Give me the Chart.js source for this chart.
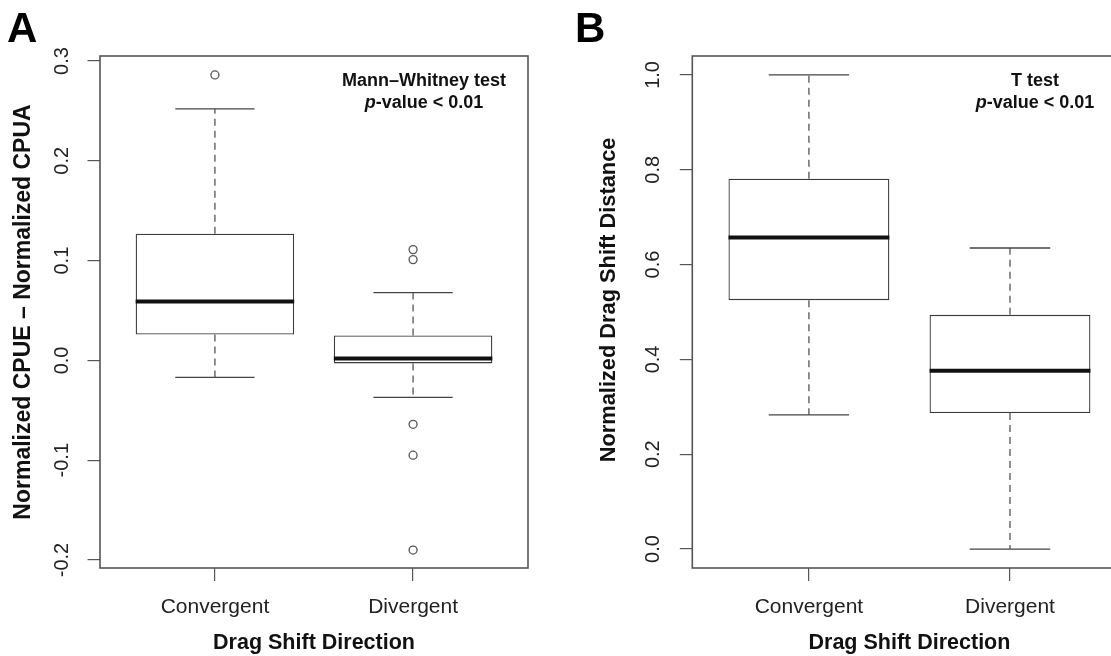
<!DOCTYPE html>
<html><head><meta charset="utf-8">
<script src="https://cdn.jsdelivr.net/npm/chart.js@4.4.1/dist/chart.umd.min.js"></script>
<style>
html,body{margin:0;padding:0;background:#fff;overflow:hidden;width:1111px;height:656px;}
#wrap{position:relative;width:1111px;height:656px;overflow:hidden;background:#fff;}
canvas{position:absolute;top:0;}
#cA{left:0;} #cB{left:560px;}
.lbl{position:absolute;font-family:"Liberation Sans",Arial,sans-serif;font-weight:bold;color:#000;white-space:nowrap;}
.panel{font-size:42px;line-height:42px;}
.note{font-size:18px;line-height:22px;text-align:center;width:240px;color:#111;}
</style></head><body>
<div id="wrap">
<canvas id="cA" width="555" height="656"></canvas>
<canvas id="cB" width="600" height="656"></canvas>
<div class="lbl panel" style="left:7px;top:7px">A</div>
<div class="lbl panel" style="left:575px;top:7px">B</div>
<div class="lbl note" style="left:304px;top:69px">Mann–Whitney test<br><i>p</i>-value &lt; 0.01</div>
<div class="lbl note" style="left:915px;top:69px">T test<br><i>p</i>-value &lt; 0.01</div>
</div>
<script>
// ---------- data ----------
const categories = ['Convergent', 'Divergent'];
const categoryPositions = [1, 2];

// Panel A: Normalized CPUE – Normalized CPUA
const aLowerWhisker = [-0.017, -0.037];
const aQ1           = [0.026, -0.003];
const aMedian       = [0.059, 0.002];
const aQ3           = [0.127, 0.025];
const aUpperWhisker = [0.252, 0.068];
const aOutlierCats   = [1, 2, 2, 2, 2, 2];
const aOutlierValues = [0.286, 0.111, 0.101, -0.064, -0.095, -0.190];
const aTicks = [-0.2, -0.1, 0.0, 0.1, 0.2, 0.3];

// Panel B: Normalized Drag Shift Distance
const bLowerWhisker = [0.283, 0.000];
const bQ1           = [0.525, 0.287];
const bMedian       = [0.657, 0.376];
const bQ3           = [0.781, 0.494];
const bUpperWhisker = [1.000, 0.635];
const bOutlierCats   = [];
const bOutlierValues = [];
const bTicks = [0.0, 0.2, 0.4, 0.6, 0.8, 1.0];

// ---------- drawing ----------
const FONT = '"Liberation Sans", Arial, sans-serif';
const BOXHALF = 0.4, CAPHALF = 0.2;

const boxExtras = {
  id: 'boxExtras',
  afterDatasetsDraw(chart, args, opts) {
    const {ctx, scales: {x, y}} = chart;
    const s = opts.stats;
    ctx.save();
    categoryPositions.forEach((pos, i) => {
      const cx = x.getPixelForValue(pos);
      const bh = x.getPixelForValue(pos + BOXHALF) - cx;
      const ch = x.getPixelForValue(pos + CAPHALF) - cx;
      // whiskers (dashed)
      ctx.strokeStyle = '#555'; ctx.lineWidth = 1.3; ctx.setLineDash([7, 5]);
      ctx.beginPath();
      ctx.moveTo(cx, y.getPixelForValue(s.q3[i])); ctx.lineTo(cx, y.getPixelForValue(s.uw[i]));
      ctx.moveTo(cx, y.getPixelForValue(s.q1[i])); ctx.lineTo(cx, y.getPixelForValue(s.lw[i]));
      ctx.stroke();
      // caps
      ctx.setLineDash([]); ctx.strokeStyle = '#444';
      ctx.beginPath();
      const yu = y.getPixelForValue(s.uw[i]), yl = y.getPixelForValue(s.lw[i]);
      ctx.moveTo(cx - ch, yu); ctx.lineTo(cx + ch, yu);
      ctx.moveTo(cx - ch, yl); ctx.lineTo(cx + ch, yl);
      ctx.stroke();
      // median
      ctx.strokeStyle = '#111'; ctx.lineWidth = 4;
      const ym = y.getPixelForValue(s.med[i]);
      ctx.beginPath(); ctx.moveTo(cx - bh, ym); ctx.lineTo(cx + bh, ym); ctx.stroke();
    });
    ctx.restore();
  },
  afterDraw(chart) {
    const {ctx, chartArea: a} = chart;
    ctx.save();
    ctx.strokeStyle = '#555'; ctx.lineWidth = 1.6;
    ctx.strokeRect(a.left, a.top, a.right - a.left, a.bottom - a.top);
    ctx.restore();
  }
};

function makeChart(id, o) {
  const boxData = categoryPositions.map((p, i) => ({x: p, y: [o.q1[i], o.q3[i]]}));
  const outData = o.outCats.map((c, i) => ({x: c, y: o.outVals[i]}));
  return new Chart(document.getElementById(id), {
    type: 'bar',
    data: {
      datasets: [
        {type: 'bar', data: boxData, backgroundColor: '#ffffff', borderColor: '#3a3a3a',
         borderWidth: 1.3, borderSkipped: false, barPercentage: 0.8, categoryPercentage: 1.0, order: 2},
        {type: 'scatter', data: outData, pointRadius: 4, pointHoverRadius: 4, pointBorderWidth: 1.3,
         borderColor: '#555', backgroundColor: 'rgba(0,0,0,0)', showLine: false, order: 1}
      ]
    },
    options: {
      responsive: false, animation: false, devicePixelRatio: 1,
      layout: {padding: {left: 0, top: 56, right: o.padRight, bottom: 0}},
      plugins: {legend: {display: false}, tooltip: {enabled: false}, boxExtras: {stats: o}},
      scales: {
        x: {
          type: 'linear', min: 0.42, max: 2.58, offset: false,
          afterBuildTicks: s => { s.ticks = categoryPositions.map(v => ({value: v})); },
          afterFit: s => { s.height = 88; },
          grid: {display: true, offset: false, drawOnChartArea: false, drawTicks: true, tickLength: 13, color: '#555', lineWidth: 1.2},
          border: {display: false},
          ticks: {callback: v => categories[categoryPositions.indexOf(v)], font: {family: FONT, size: 21},
                  color: '#222', padding: 14, maxRotation: 0, minRotation: 0, autoSkip: false},
          title: {display: true, text: 'Drag Shift Direction', font: {family: FONT, size: 21.5, weight: 'bold'},
                  color: '#111', padding: {top: 0, bottom: 0.5}}
        },
        y: {
          type: 'linear', min: o.yMin, max: o.yMax,
          afterBuildTicks: s => { s.ticks = o.ticks.map(v => ({value: v})); },
          afterFit: s => { s.width = o.yWidth; },
          grid: {display: true, drawOnChartArea: false, drawTicks: true, tickLength: 12.5, color: '#555', lineWidth: 1.2},
          border: {display: false},
          ticks: {callback: v => v.toFixed(1), font: {family: FONT, size: 20}, color: '#222',
                  minRotation: 90, maxRotation: 90, crossAlign: 'center', padding: o.tickPad, autoSkip: false},
          title: {display: true, text: o.yTitle, font: {family: FONT, size: o.titleSize, weight: 'bold'},
                  color: '#111', padding: {top: o.titlePad, bottom: 0}}
        }
      }
    },
    plugins: [boxExtras]
  });
}

makeChart('cA', {
  q1: aQ1, q3: aQ3, med: aMedian, lw: aLowerWhisker, uw: aUpperWhisker,
  outCats: aOutlierCats, outVals: aOutlierValues, ticks: aTicks,
  yMin: -0.208, yMax: 0.305, yWidth: 100, padRight: 27, tickPad: 7.8, titlePad: 9.5, titleSize: 23,
  yTitle: 'Normalized CPUE – Normalized CPUA'
});
makeChart('cB', {
  q1: bQ1, q3: bQ3, med: bMedian, lw: bLowerWhisker, uw: bUpperWhisker,
  outCats: bOutlierCats, outVals: bOutlierValues, ticks: bTicks,
  yMin: -0.04, yMax: 1.04, yWidth: 132.3, padRight: 33.4, tickPad: 12, titlePad: 36, titleSize: 21.8,
  yTitle: '\u00A0\u00A0\u00A0\u00A0Normalized Drag Shift Distance'
});
</script>
</body></html>
